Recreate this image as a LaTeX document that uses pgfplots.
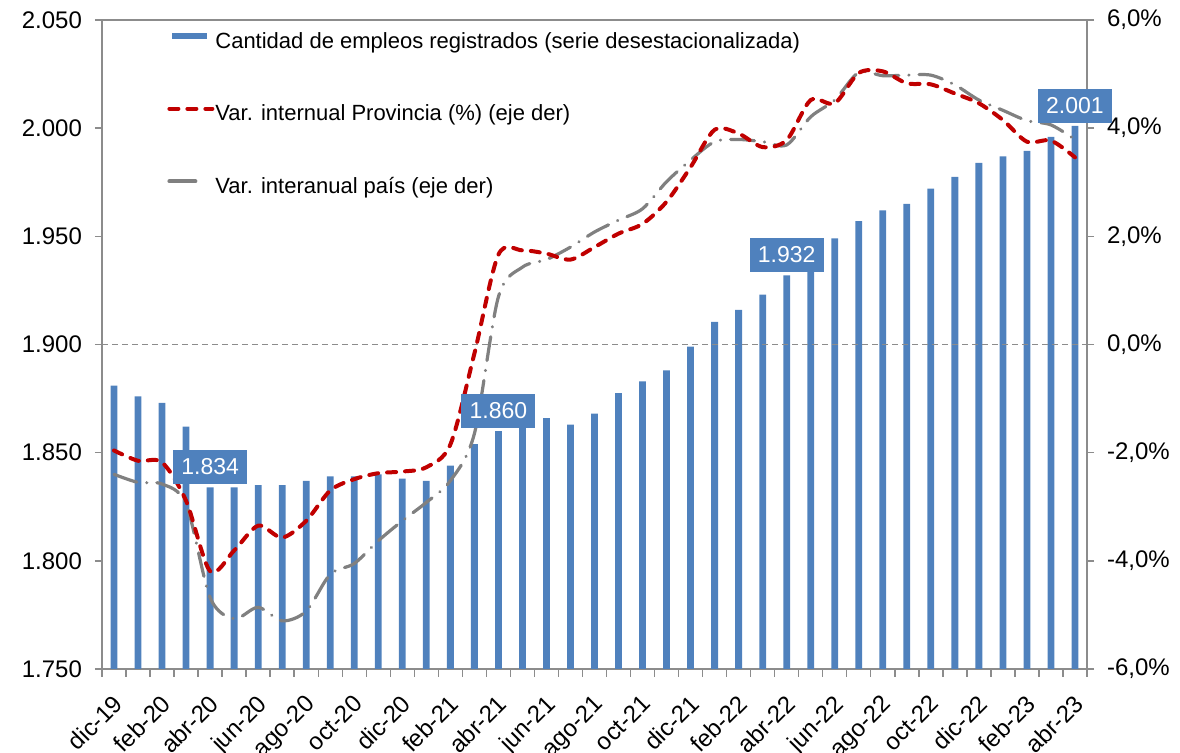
\documentclass[border=0pt]{standalone}
\usepackage{fontspec}
\setmainfont{Liberation Sans}
\usepackage{pgfplots}
\usepackage{pgfplotstable}
\pgfplotsset{compat=1.18}

\definecolor{barblue}{RGB}{79,129,189}
\definecolor{provred}{RGB}{192,0,0}
\definecolor{paisgray}{RGB}{128,128,128}
\definecolor{axisgray}{RGB}{140,140,140}

% i = mes (0 = dic-19), emp = miles de empleos, prov / pais = var. interanual (%)
\pgfplotstableread{
i  emp     prov   pais
0  1881   -1.96  -2.40
1  1876   -2.15  -2.55
2  1873   -2.18  -2.58
3  1862   -2.89  -2.95
4  1834   -4.19  -4.68
5  1834   -3.81  -5.07
6  1835   -3.35  -4.86
7  1835   -3.57  -5.11
8  1837   -3.26  -4.93
9  1839   -2.70  -4.25
10 1839   -2.49  -4.05
11 1840   -2.38  -3.63
12 1838   -2.35  -3.26
13 1837   -2.27  -2.92
14 1844   -1.85  -2.52
15 1854   -0.17  -1.65
16 1860    1.66   0.88
17 1863    1.74   1.43
18 1866    1.68   1.57
19 1863    1.57   1.80
20 1868    1.80   2.08
21 1877.5  2.05   2.30
22 1883    2.23   2.51
23 1888    2.64   3.01
24 1899    3.28   3.41
25 1910.5  3.97   3.75
26 1916    3.90   3.79
27 1923    3.65   3.75
28 1932    3.78   3.69
29 1940    4.52   4.21
30 1949    4.46   4.52
31 1957    5.02   5.03
32 1962    5.05   4.97
33 1965    4.83   4.98
34 1972    4.81   4.98
35 1977.5  4.64   4.80
36 1984    4.46   4.52
37 1987    4.15   4.33
38 1989.5  3.75   4.14
39 1996    3.77   4.06
40 2001    3.46   3.79
}\datos

\tikzset{
  lbl/.style={fill=barblue, text=white, font=\fontsize{11.5}{13}\selectfont,
    minimum width=37pt, minimum height=17pt, inner sep=0pt, anchor=south, yshift=1.5pt},
}

\begin{document}
\begin{tikzpicture}
\pgfplotsset{
  base/.style={
    width=492.5pt, height=324.5pt, scale only axis,
    xmin=-0.5, xmax=40.5,
    axis line style={axisgray, line width=0.7pt},
    tick align=outside,
    major tick length=3.5pt,
    minor tick length=4pt,
    every tick/.style={axisgray, line width=0.7pt},
    ticklabel style={font=\fontsize{12}{14}\selectfont, text=black},
  },
}

\begin{axis}[base, name=a1,
  ymin=1750, ymax=2050,
  ytick={1750,1800,1850,1900,1950,2000,2050},
  yticklabels={1.750,1.800,1.850,1.900,1.950,2.000,2.050},
  ytick pos=left, xtick pos=bottom,
  yticklabel style={xshift=-3pt},
  xtick={0,2,...,40},
  xticklabels={dic-19,feb-20,abr-20,jun-20,ago-20,oct-20,dic-20,feb-21,abr-21,jun-21,ago-21,oct-21,dic-21,feb-22,abr-22,jun-22,ago-22,oct-22,dic-22,feb-23,abr-23},
  xticklabel style={rotate=45, anchor=north east, xshift=-3.4pt, yshift=-1.8pt},
  major x tick style={draw=none},
  minor xtick={-0.5,0.5,...,40.5},
]
\addplot[ybar, bar width=3.4pt, fill=barblue, draw=none] table[x=i, y=emp]{\datos};
\addplot[axisgray, line width=0.6pt, dash pattern=on 3pt off 2pt] coordinates {(-0.5,1900) (40.5,1900)};
\coordinate (L1) at (axis cs:4,1834);
\coordinate (L2) at (axis cs:16,1860);
\coordinate (L3) at (axis cs:28,1932);
\coordinate (L4) at (axis cs:40,2001);
\end{axis}

\begin{axis}[base,
  ymin=-6, ymax=6,
  axis y line*=right, axis x line=none,
  ytick={-6,-4,...,6},
  yticklabels={{-6,0\%},{-4,0\%},{-2,0\%},{0,0\%},{2,0\%},{4,0\%},{6,0\%}},
  yticklabel style={xshift=3pt},
  legend style={draw=none, fill=none, at={(0.066,0.982)}, anchor=north west,
    row sep=25.8pt, inner sep=0pt,
    font=\fontsize{11}{13}\selectfont,
    nodes={inner xsep=0.5pt, inner ysep=0pt, text height=8pt, text depth=2.5pt}},
  legend cell align=left,
]
\addlegendimage{legend image code/.code={\draw[barblue, line width=3pt] (2.5pt,0.6ex) -- (20pt,0.6ex);}}
\addlegendentry{Cantidad de empleos registrados (serie desestacionalizada)}
\addlegendimage{legend image code/.code={\draw[provred, line width=2pt, line cap=round, dash pattern=on 4.5pt off 4.5pt] (1pt,0.6ex) -- (22.5pt,0.6ex);}}
\addlegendentry{Var. internual Provincia (\%) (eje der)}
\addlegendimage{legend image code/.code={\draw[paisgray, line width=2pt, line cap=round] (1pt,0.6ex) -- (14pt,0.6ex);}}
\addlegendentry{Var. interanual país (eje der)}

\addplot[paisgray, line width=1.6pt, line cap=round, smooth, tension=0.5,
  dash pattern=on 12pt off 5pt on 0.1pt off 5pt, forget plot] table[x=i, y=pais]{\datos};
\addplot[provred, line width=2pt, line cap=round, smooth, tension=0.5,
  dash pattern=on 4.5pt off 4.5pt, forget plot] table[x=i, y=prov]{\datos};
\end{axis}

\node[lbl] at (L1) {1.834};
\node[lbl] at (L2) {1.860};
\node[lbl] at (L3) {1.932};
\node[lbl] at (L4) {2.001};

\pgfresetboundingbox
\path ([shift={(-51pt,-42pt)}]a1.south west) rectangle ++(590pt,376.5pt);
\end{tikzpicture}
\end{document}
